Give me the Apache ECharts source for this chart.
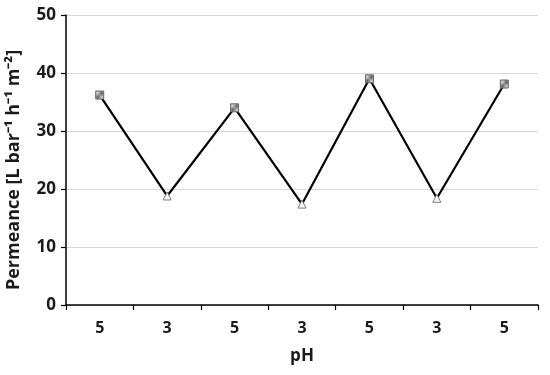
<!DOCTYPE html>
<html><head><meta charset="utf-8">
<script src="https://cdn.jsdelivr.net/npm/echarts@6/dist/echarts.min.js"></script>
<style>html,body{margin:0;padding:0;background:#fff}#c{width:550px;height:375px}</style>
</head><body><div id="c"></div>
<script>
const categories = ['5','3','5','3','5','3','5'];
const permeance = [36.2, 18.8, 34.0, 17.4, 39.0, 18.4, 38.1];
const yTicks = [0, 10, 20, 30, 40, 50];

// hatch pattern for square markers
const pc = document.createElement('canvas');
pc.width = 3; pc.height = 3;
const g = pc.getContext('2d');
g.fillStyle = '#d0d0d0'; g.fillRect(0, 0, 3, 3);
g.fillStyle = '#555';
g.fillRect(0, 2, 1, 1); g.fillRect(1, 1, 1, 1); g.fillRect(2, 0, 1, 1);

const chart = echarts.init(document.getElementById('c'));
const font = 'Open Sans';
chart.setOption({
  animation: false,
  grid: {left: 66, right: 12, top: 15, bottom: 70, containLabel: false, outerBoundsMode: 'none'},
  xAxis: {
    type: 'category', data: categories, boundaryGap: true,
    name: 'pH', nameLocation: 'middle', nameGap: 43,
    nameTextStyle: {fontFamily: font, fontWeight: 'bold', fontSize: 17, color: '#1a1a1a'},
    axisLine: {lineStyle: {color: '#000', width: 1.5}},
    axisTick: {show: true, length: 5, lineStyle: {color: '#000', width: 1.2}},
    axisLabel: {fontFamily: font, fontWeight: 'bold', fontSize: 16, color: '#1a1a1a', margin: 15}
  },
  yAxis: {
    type: 'value', min: 0, max: 50, interval: 10,
    name: 'Permeance [L bar\u207B\u00B9 h\u207B\u00B9 m\u207B\u00B2]', nameLocation: 'middle', nameGap: 43,
    nameTextStyle: {fontFamily: font, fontWeight: 'bold', fontSize: 18, color: '#1a1a1a', padding: [0, 20, 0, 0]},
    axisLine: {show: true, lineStyle: {color: '#000', width: 1.5}},
    axisTick: {show: true, length: 5, lineStyle: {color: '#000', width: 1.2}},
    axisLabel: {fontFamily: font, fontWeight: 'bold', fontSize: 17, color: '#1a1a1a', margin: 10,
      formatter: v => yTicks.includes(v) ? String(v) : ''},
    splitLine: {lineStyle: {color: '#d9d9d9', width: 1}}
  },
  series: [{
    type: 'line',
    data: permeance.map((v, i) => ({
      value: v,
      symbol: categories[i] === '5' ? 'rect' : 'triangle',
      symbolSize: 8,
      itemStyle: categories[i] === '5'
        ? {color: {image: pc, repeat: 'repeat'}, borderColor: '#666', borderWidth: 1}
        : {color: '#fff', borderColor: '#777', borderWidth: 1}
    })),
    showAllSymbol: true,
    lineStyle: {color: '#000', width: 2.2},
    z: 3
  }]
});
</script></body></html>
